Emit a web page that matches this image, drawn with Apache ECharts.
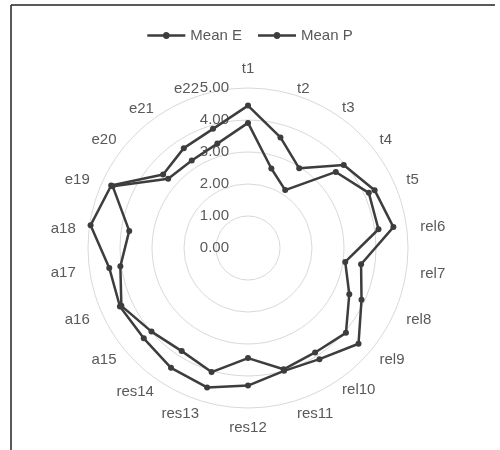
<!DOCTYPE html>
<html>
<head>
<meta charset="utf-8">
<script src="https://cdn.jsdelivr.net/npm/echarts@6/dist/echarts.min.js"></script>
<style>
html,body{margin:0;padding:0;background:#fff;}
#chart{width:500px;height:450px;}
</style>
</head>
<body>
<div id="chart"></div>
<script>
var categories = ['t1','t2','t3','t4','t5','rel6','rel7','rel8','rel9','rel10','res11','res12','res13','res14','a15','a16','a17','a18','e19','e20','e21','e22'];
var meanE = [4.45,3.60,2.96,3.96,4.35,4.59,3.57,3.90,4.57,4.13,4.00,4.30,4.54,4.45,4.31,4.40,4.38,4.97,4.70,3.51,3.71,3.88];
var meanP = [3.91,2.59,2.15,3.63,4.15,4.12,3.07,3.48,4.05,3.88,3.95,3.44,4.04,3.83,3.99,4.35,4.03,3.75,4.65,3.30,3.25,3.40];
var seriesNames = ['Mean E','Mean P'];
var radiusTicks = ['0.00','1.00','2.00','3.00','4.00','5.00'];

// layout: vertical nudge (px, + = down) of each category name, as placed in the original
var nameNudge = [0,8,6,6,4,4,1,0,-2,-5,-1,0,-1,-3,-2,0,0,6,4,6,7,8];
// layout: distance of each category name from the outer ring
var nameGapAt = {t1: 12, res12: 12};

// ECharts radar runs counter-clockwise; reorder so the chart reads clockwise
var order = [0];
for (var i = categories.length - 1; i >= 1; i--) order.push(i);
function reorder(arr){ return order.map(function(k){ return arr[k]; }); }

var chart = echarts.init(document.getElementById('chart'));
var lineColor = '#3d3d3d';
var textColor = '#595959';
var font = 'Liberation Sans, Arial, sans-serif';

var rich = {};
categories.forEach(function(n, k){
  var d = nameNudge[k];
  var pad = d > 0 ? [2 * d, 0, 0, 0] : (d < 0 ? [0, 0, -2 * d, 0] : [0, 0, 0, 0]);
  rich['s' + k] = {padding: pad, color: textColor, fontSize: 15, fontFamily: font};
});

var indicators = order.map(function(k, i){
  var n = categories[k];
  var o = {name: n, min: 0, max: 5};
  if (i === 0) o.axisLabel = {show: true};
  if (nameGapAt[n] != null) o.nameGap = nameGapAt[n];
  return o;
});

chart.setOption({
  animation: false,
  backgroundColor: '#ffffff',
  graphic: [
    {type:'line', shape:{x1:11,y1:5,x2:495,y2:5}, style:{stroke:'#222',lineWidth:1.5}},
    {type:'line', shape:{x1:11,y1:5,x2:11,y2:450}, style:{stroke:'#222',lineWidth:1.5}}
  ],
  legend: {
    data: seriesNames,
    top: 23,
    left: 'center',
    itemWidth: 38,
    itemHeight: 8,
    itemGap: 16,
    icon: 'path://M0,2.75 L15.73,2.75 A3.5,3.5 0 0 1 22.27,2.75 L38,2.75 L38,5.25 L22.27,5.25 A3.5,3.5 0 0 1 15.73,5.25 L0,5.25 Z',
    textStyle: {color: textColor, fontSize: 15, fontFamily: font}
  },
  radar: {
    center: [248, 248],
    radius: 160,
    startAngle: 90,
    shape: 'circle',
    splitNumber: 5,
    nameGap: 14,
    indicator: indicators,
    axisName: {
      color: textColor, fontSize: 15, fontFamily: font,
      formatter: function(name){ return '{s' + categories.indexOf(name) + '|' + name + '}'; },
      rich: rich
    },
    splitLine: {lineStyle: {color: '#d9d9d9', width: 1}},
    splitArea: {show: false},
    axisLine: {show: false},
    axisTick: {show: false},
    axisLabel: {
      show: false,
      margin: 19,
      color: textColor, fontSize: 15, fontFamily: font,
      formatter: function(v){ return radiusTicks[Math.round(v)]; }
    }
  },
  series: [{
    type: 'radar',
    symbol: 'circle',
    symbolSize: 6,
    lineStyle: {color: lineColor, width: 2.5},
    itemStyle: {color: lineColor},
    data: [
      {name: seriesNames[0], value: reorder(meanE)},
      {name: seriesNames[1], value: reorder(meanP)}
    ]
  }]
});
</script>
</body>
</html>
